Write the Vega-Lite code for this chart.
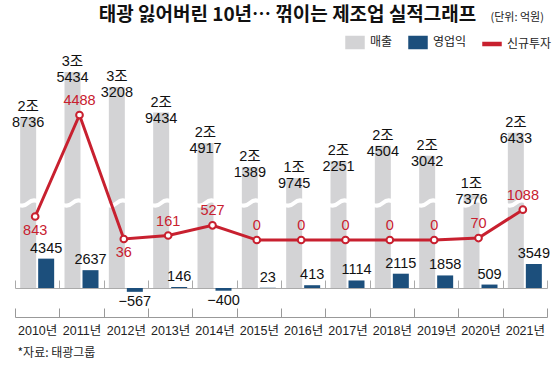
{
  "$schema": "https://vega.github.io/schema/vega-lite/v6.json",
  "width": 532,
  "height": 257,
  "autosize": {"type": "none"},
  "padding": {"left": 15, "top": 60, "right": 13, "bottom": 60},
  "background": "white",
  "config": {
    "view": {"stroke": null},
    "font": "Liberation Sans Narrow, Liberation Sans, Noto Sans CJK KR"
  },
  "title": {
    "text": "태광 잃어버린 10년… 꺾이는 제조업 실적그래프",
    "anchor": "start",
    "dx": 89,
    "dy": 22,
    "offset": 8,
    "font": "Noto Sans CJK KR",
    "fontSize": 19,
    "fontWeight": "bold",
    "color": "#111"
  },
  "data": {
    "values": [
      {"year": "2010년", "sales": 28736, "salesLabel": "2조\n8736", "profit": 4345, "invest": 843},
      {"year": "2011년", "sales": 35434, "salesLabel": "3조\n5434", "profit": 2637, "invest": 4488},
      {"year": "2012년", "sales": 33208, "salesLabel": "3조\n3208", "profit": -567, "invest": 36},
      {"year": "2013년", "sales": 29434, "salesLabel": "2조\n9434", "profit": 146, "invest": 161},
      {"year": "2014년", "sales": 24917, "salesLabel": "2조\n4917", "profit": -400, "invest": 527},
      {"year": "2015년", "sales": 21389, "salesLabel": "2조\n1389", "profit": 23, "invest": 0},
      {"year": "2016년", "sales": 19745, "salesLabel": "1조\n9745", "profit": 413, "invest": 0},
      {"year": "2017년", "sales": 22251, "salesLabel": "2조\n2251", "profit": 1114, "invest": 0},
      {"year": "2018년", "sales": 24504, "salesLabel": "2조\n4504", "profit": 2115, "invest": 0},
      {"year": "2019년", "sales": 23042, "salesLabel": "2조\n3042", "profit": 1858, "invest": 0},
      {"year": "2020년", "sales": 17376, "salesLabel": "1조\n7376", "profit": 509, "invest": 70},
      {"year": "2021년", "sales": 26433, "salesLabel": "2조\n6433", "profit": 3549, "invest": 1088}
    ]
  },
  "layer": [
    {
      "layer": [
        {
          "mark": {"type": "bar", "width": 16, "xOffset": -9},
          "encoding": {
            "x": {
              "field": "year", "type": "ordinal",
              "scale": {"type": "band", "paddingInner": 0, "paddingOuter": 0},
              "axis": {
                "orient": "bottom",
                "title": "*자료: 태광그룹",
                "titleX": 2, "titleY": 35,
                "titleAlign": "left", "titleAnchor": "start", "titleBaseline": "middle",
                "titleFont": "Noto Sans CJK KR", "titleFontSize": 12, "titleFontWeight": "normal", "titleColor": "#222",
                "labelFont": "Liberation Sans, Noto Sans CJK KR", "labelFontSize": 12.5, "labelColor": "#222",
                "labelAngle": 0, "labelPadding": 16,
                "tickSize": -9, "tickBand": "extent", "tickColor": "#999", "domainColor": "#999"
              }
            },
            "y": {"field": "sales", "type": "quantitative", "scale": {"domain": [-829, 37211], "nice": false, "zero": false}, "axis": null},
            "y2": {"datum": 3464},
            "color": {
              "datum": "매출", "type": "nominal",
              "scale": {"domain": ["매출", "영업익", "신규투자"], "range": ["#d3d3d5", "#1c4f7c", "#c8202f"]},
              "legend": {
                "orient": "none", "legendX": 330, "legendY": -28, "direction": "horizontal", "title": null,
                "labelFont": "Noto Sans CJK KR", "labelFontSize": 12, "labelColor": "#222",
                "columnPadding": 13, "labelOffset": 5, "symbolSize": 324,
                "encode": {
                  "symbols": {
                    "update": {
                      "shape": {"signal": "datum.value === '신규투자' ? 'M-1,-0.17H1V0.17H-1Z' : 'M-1,-0.67H1V0.67H-1Z'"},
                      "fill": {"scale": "color", "field": "value"},
                      "stroke": {"value": "transparent"},
                      "opacity": {"value": 1}
                    }
                  }
                }
              }
            }
          }
        },
        {
          "mark": {"type": "point", "shape": "M-1,0.1Q-0.5,0.45,0,0Q0.5,-0.45,1,-0.1", "size": 441, "stroke": "white", "strokeWidth": 4, "filled": false, "xOffset": -9, "opacity": 1},
          "encoding": {
            "x": {"field": "year", "type": "ordinal"},
            "y": {"datum": 16045, "type": "quantitative"}
          }
        },
        {
          "mark": {"type": "text", "lineBreak": "\n", "baseline": "bottom", "dy": -3, "xOffset": -9, "fontSize": 14.5, "lineHeight": 16, "color": "#111"},
          "encoding": {
            "x": {"field": "year", "type": "ordinal"},
            "y": {"field": "sales", "type": "quantitative"},
            "text": {"field": "salesLabel"}
          }
        }
      ]
    },
    {
      "layer": [
        {
          "mark": {"type": "bar", "width": 16, "xOffset": 9},
          "encoding": {
            "x": {
              "field": "year", "type": "ordinal",
              "axis": {"orient": "bottom", "offset": -29, "labels": false, "title": null, "tickSize": -8, "tickBand": "extent", "tickColor": "#aaa", "domainColor": "#aaa"}
            },
            "y": {"field": "profit", "type": "quantitative", "scale": {"domain": [-4290, 33728], "nice": false, "zero": false}, "axis": null},
            "y2": {"datum": 0},
            "color": {"datum": "영업익", "type": "nominal"}
          }
        },
        {
          "transform": [{"filter": "datum.profit >= 0"}],
          "mark": {"type": "text", "baseline": "bottom", "dy": -3, "xOffset": 9, "fontSize": 14.5, "color": "#111"},
          "encoding": {
            "x": {
              "field": "year", "type": "ordinal",
              "axis": {"orient": "bottom", "offset": -29, "labels": false, "title": null, "tickSize": -8, "tickBand": "extent", "tickColor": "#aaa", "domainColor": "#aaa"}
            },
            "y": {"field": "profit", "type": "quantitative"},
            "text": {"field": "profit", "type": "quantitative", "format": "d"}
          }
        },
        {
          "transform": [{"filter": "datum.profit < 0"}],
          "mark": {"type": "text", "baseline": "top", "dy": 3, "xOffset": 9, "fontSize": 14.5, "color": "#111"},
          "encoding": {
            "x": {
              "field": "year", "type": "ordinal",
              "axis": {"orient": "bottom", "offset": -29, "labels": false, "title": null, "tickSize": -8, "tickBand": "extent", "tickColor": "#aaa", "domainColor": "#aaa"}
            },
            "y": {"field": "profit", "type": "quantitative"},
            "text": {"field": "profit", "type": "quantitative", "format": "d"}
          }
        }
      ]
    },
    {
      "layer": [
        {
          "mark": {"type": "line", "strokeWidth": 3, "xOffset": -2},
          "encoding": {
            "x": {"field": "year", "type": "ordinal", "axis": null},
            "y": {
              "field": "invest", "type": "quantitative",
              "scale": {"domain": [-2765, 6463], "nice": false, "zero": false},
              "axis": {
                "orient": "right", "labels": false, "ticks": false, "domain": false, "grid": false,
                "title": "(단위: 억원)", "titleAngle": 0, "titleX": -57, "titleY": -43,
                "titleAlign": "left", "titleBaseline": "middle",
                "titleFont": "Noto Sans CJK KR", "titleFontSize": 11, "titleFontWeight": "normal", "titleColor": "#222"
              }
            },
            "color": {"datum": "신규투자", "type": "nominal"}
          }
        },
        {
          "mark": {"type": "point", "filled": true, "fill": "white", "stroke": "#c8202f", "strokeWidth": 2, "size": 45, "xOffset": -2, "opacity": 1},
          "encoding": {
            "x": {"field": "year", "type": "ordinal", "axis": null},
            "y": {"field": "invest", "type": "quantitative"}
          }
        },
        {
          "transform": [{"filter": "datum.year !== '2010년' && datum.year !== '2012년'"}],
          "mark": {"type": "text", "baseline": "bottom", "dy": -7, "xOffset": -2, "fontSize": 14.5, "color": "#c8202f"},
          "encoding": {
            "x": {"field": "year", "type": "ordinal", "axis": null},
            "y": {"field": "invest", "type": "quantitative"},
            "text": {"field": "invest", "type": "quantitative", "format": "d"}
          }
        },
        {
          "transform": [{"filter": "datum.year === '2010년' || datum.year === '2012년'"}],
          "mark": {"type": "text", "baseline": "top", "dy": 7, "xOffset": -2, "fontSize": 14.5, "color": "#c8202f"},
          "encoding": {
            "x": {"field": "year", "type": "ordinal", "axis": null},
            "y": {"field": "invest", "type": "quantitative"},
            "text": {"field": "invest", "type": "quantitative", "format": "d"}
          }
        }
      ]
    }
  ],
  "resolve": {"scale": {"y": "independent"}, "axis": {"x": "independent"}}
}
